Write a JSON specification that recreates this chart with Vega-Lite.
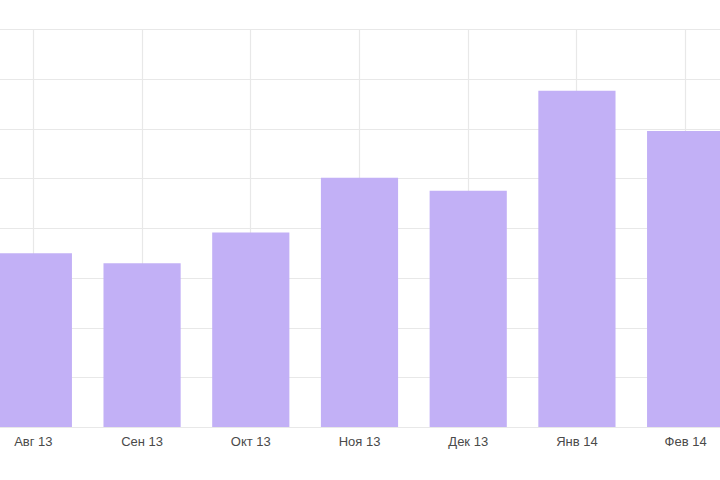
{
  "$schema": "https://vega.github.io/schema/vega-lite/v6.json",
  "autosize": {"type": "none"},
  "width": 761,
  "height": 398,
  "padding": {"left": -21, "top": 29, "right": 0, "bottom": 53},
  "background": "white",
  "data": {
    "values": [
      {"month": "Авг 13", "value": 349},
      {"month": "Сен 13", "value": 329},
      {"month": "Окт 13", "value": 391},
      {"month": "Ноя 13", "value": 501},
      {"month": "Дек 13", "value": 475},
      {"month": "Янв 14", "value": 676},
      {"month": "Фев 14", "value": 595}
    ]
  },
  "mark": {"type": "bar", "color": "#c2b0f6"},
  "encoding": {
    "x": {
      "field": "month",
      "type": "nominal",
      "sort": null,
      "scale": {"paddingInner": 0.29, "paddingOuter": 0.145},
      "axis": {
        "title": null,
        "labelAngle": 0,
        "grid": true,
        "bandPosition": 0.5,
        "gridColor": "#e8e8e8",
        "gridWidth": 1.2,
        "ticks": false,
        "domain": false,
        "labelPadding": 8,
        "labelFont": "Liberation Sans",
        "labelFontSize": 13,
        "labelColor": "#4a4a4a"
      }
    },
    "y": {
      "field": "value",
      "type": "quantitative",
      "scale": {"domain": [0, 800], "nice": false},
      "axis": {
        "title": null,
        "values": [0, 100, 200, 300, 400, 500, 600, 700, 800],
        "labels": false,
        "ticks": false,
        "domain": false,
        "grid": true,
        "gridColor": "#e8e8e8",
        "gridWidth": 1.2
      }
    }
  },
  "config": {"view": {"stroke": null}}
}
